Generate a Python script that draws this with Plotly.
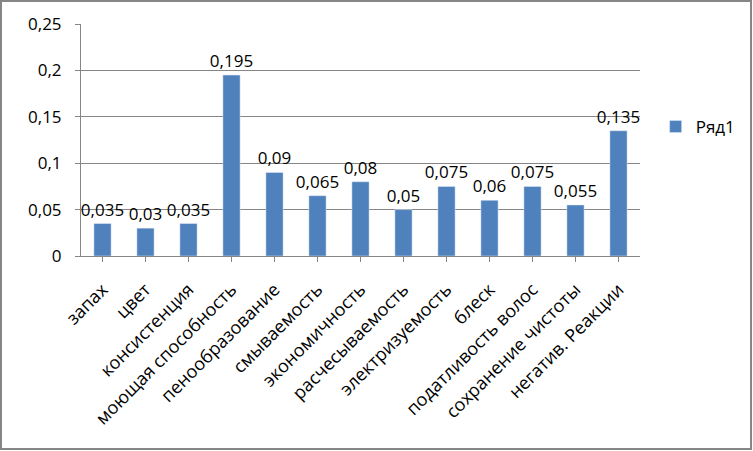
import plotly.graph_objects as go

categories = ["запах", "цвет", "консистенция", "моющая способность", "пенообразование",
              "смываемость", "экономичность", "расчесываемость", "электризуемость",
              "блеск", "податливость волос", "сохранение чистоты", "негатив. Реакции"]
values = [0.035, 0.03, 0.035, 0.195, 0.09, 0.065, 0.08, 0.05, 0.075, 0.06, 0.075, 0.055, 0.135]
series_name = "Ряд1"
tick_vals = [0, 0.05, 0.1, 0.15, 0.2, 0.25]
tick_text = ["0", "0,05", "0,1", "0,15", "0,2", "0,25"]

labels = [str(v).replace(".", ",") for v in values]

font_family = "Open Sans, DejaVu Sans, sans-serif"

fig = go.Figure(go.Bar(
    x=categories, y=values, name=series_name,
    marker=dict(color="#4F81BD"),
    text=labels, textposition="outside", cliponaxis=False,
    constraintext="none",
    textfont=dict(size=17, color="black", family=font_family),
    showlegend=True,
))

fig.update_layout(
    width=753, height=451,
    margin=dict(l=81, r=113, t=24, b=195),
    paper_bgcolor="white", plot_bgcolor="white",
    bargap=0.6,
    font=dict(family=font_family, color="black"),
    legend=dict(x=1.028, y=0.556, xanchor="left", yanchor="middle",
                font=dict(size=17), itemwidth=30),
    xaxis=dict(
        showline=True, linecolor="#868686", ticks="outside", ticklen=5,
        tickcolor="#868686", tickangle=-45, tickfont=dict(size=18),
        ticklabelstandoff=10, showgrid=False,
    ),
    yaxis=dict(
        range=[0, 0.25], tickvals=tick_vals, ticktext=tick_text,
        showline=True, linecolor="#868686", ticks="outside", ticklen=5,
        tickcolor="#868686", gridcolor="#868686", gridwidth=1,
        tickfont=dict(size=17), zeroline=False, ticklabelstandoff=10,
    ),
    shapes=[dict(type="rect", xref="paper", yref="paper",
                 x0=-80/559, x1=(753-81-2)/559, y0=-(451-256-2)/232, y1=(24-1)/232 + 1,
                 line=dict(color="#868686", width=2), fillcolor="rgba(0,0,0,0)")],
)

fig.write_html(
    "out.html",
    config={"displayModeBar": False},
    post_script="document.body.style.margin='0';document.body.style.overflow='hidden';document.documentElement.style.overflow='hidden';",
)
